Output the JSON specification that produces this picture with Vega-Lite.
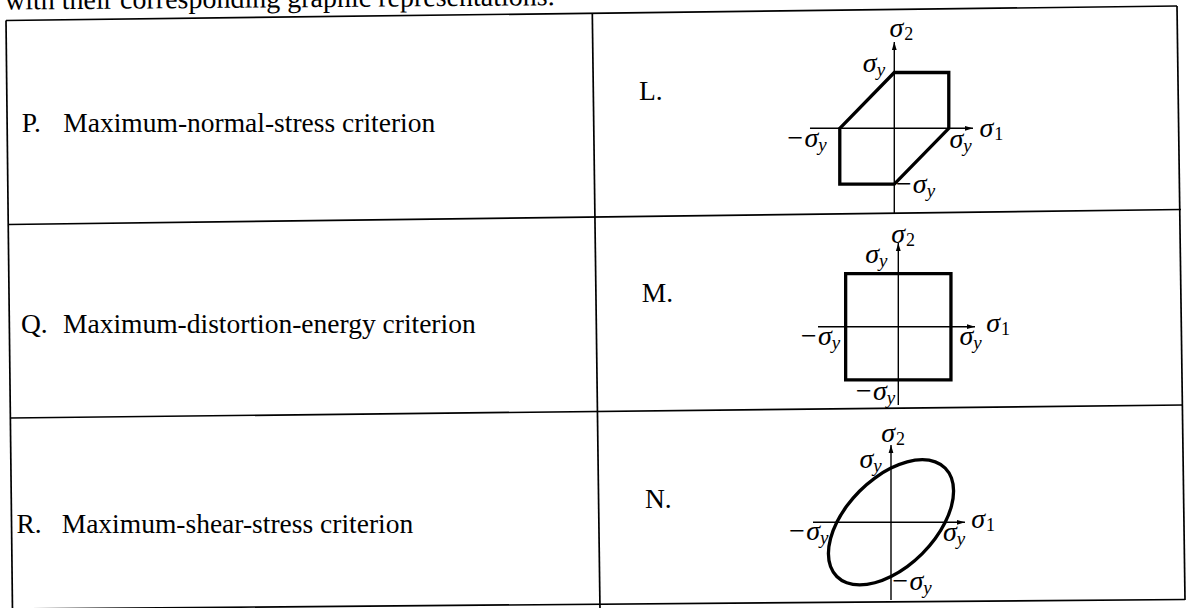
{
  "$schema": "https://vega.github.io/schema/vega-lite/v6.json",
  "width": 1190,
  "height": 608,
  "padding": 0,
  "autosize": {"type": "none"},
  "background": "white",
  "config": {"view": {"stroke": null}},
  "datasets": {
    "grid": [
      {"x": 6, "y": 20.5, "x2": 1177, "y2": 6},
      {"x": 6, "y": 20.5, "x2": 12.5, "y2": 612},
      {"x": 1177, "y": 6, "x2": 1185, "y2": 600},
      {"x": 12, "y": 609, "x2": 1185, "y2": 599.5},
      {"x": 8, "y": 224.5, "x2": 1181, "y2": 209.5},
      {"x": 10, "y": 418, "x2": 1183, "y2": 405},
      {"x": 592.3, "y": 13, "x2": 600, "y2": 610}
    ],
    "heading": [
      {"t": "with their corresponding graphic representations.", "x": 5, "y": 9.5}
    ],
    "cells": [
      {"t": "P.", "x": 21.7, "y": 131.7},
      {"t": "Maximum-normal-stress criterion", "x": 63.3, "y": 131.7},
      {"t": "Q.", "x": 21, "y": 332.5},
      {"t": "Maximum-distortion-energy criterion", "x": 63, "y": 332.5},
      {"t": "R.", "x": 16.5, "y": 533},
      {"t": "Maximum-shear-stress criterion", "x": 61.7, "y": 533},
      {"t": "L.", "x": 639, "y": 100},
      {"t": "M.", "x": 641.7, "y": 302.3},
      {"t": "N.", "x": 645, "y": 508.3}
    ],
    "d1shape": [
      {"o": 0, "x": -1, "y": 0},
      {"o": 1, "x": 0, "y": 1},
      {"o": 2, "x": 1, "y": 1},
      {"o": 3, "x": 1, "y": 0},
      {"o": 4, "x": 0, "y": -1},
      {"o": 5, "x": -1, "y": -1}
    ],
    "d1axes": [
      {"x": -1.547, "y": 0, "x2": 1.444, "y2": 0},
      {"x": 0, "y": -1.518, "x2": 0, "y2": 1.547}
    ],
    "d1arrows": [
      {"x": 1.444, "y": 0, "dir": "right"},
      {"x": 0, "y": 1.547, "dir": "up"}
    ],
    "d1labels": [
      {"x": 0.165, "y": 1.631, "main": "σ", "sub": "2"},
      {"x": 1.817, "y": -0.151, "main": "σ", "sub": "1"},
      {"x": -0.323, "y": 1.014, "main": "σ", "sub": "y"},
      {"x": -1.394, "y": -0.33, "main": "−σ", "sub": "y"},
      {"x": 1.266, "y": -0.358, "main": "σ", "sub": "y"},
      {"x": 0.594, "y": -1.165, "main": "−σ", "sub": "y"}
    ],
    "d2shape": [
      {"o": 0, "x": -1, "y": -1},
      {"o": 1, "x": -1, "y": 1},
      {"o": 2, "x": 1, "y": 1},
      {"o": 3, "x": 1, "y": -1}
    ],
    "d2axes": [
      {"x": -1.525, "y": 0, "x2": 1.457, "y2": 0},
      {"x": 0, "y": -1.473, "x2": 0, "y2": 1.575}
    ],
    "d2arrows": [
      {"x": 1.457, "y": 0, "dir": "right"},
      {"x": 0, "y": 1.575, "dir": "up"}
    ],
    "d2labels": [
      {"x": 0.127, "y": 1.569, "main": "σ", "sub": "2"},
      {"x": -0.367, "y": 1.193, "main": "σ", "sub": "y"},
      {"x": -1.265, "y": -0.344, "main": "−σ", "sub": "y"},
      {"x": 1.425, "y": -0.344, "main": "σ", "sub": "y"},
      {"x": 1.932, "y": -0.094, "main": "σ", "sub": "1"},
      {"x": -0.22, "y": -1.379, "main": "−σ", "sub": "y"}
    ],
    "d3shape": [
      {"o": 0, "x": 1, "y": 1},
      {"o": 1, "x": 0.8165, "y": 1.1154},
      {"o": 2, "x": 0.5774, "y": 1.1547},
      {"o": 3, "x": 0.2989, "y": 1.1154},
      {"o": 4, "x": 0, "y": 1},
      {"o": 5, "x": -0.2989, "y": 0.8165},
      {"o": 6, "x": -0.5774, "y": 0.5774},
      {"o": 7, "x": -0.8165, "y": 0.2989},
      {"o": 8, "x": -1, "y": 0},
      {"o": 9, "x": -1.1154, "y": -0.2989},
      {"o": 10, "x": -1.1547, "y": -0.5774},
      {"o": 11, "x": -1.1154, "y": -0.8165},
      {"o": 12, "x": -1, "y": -1},
      {"o": 13, "x": -0.8165, "y": -1.1154},
      {"o": 14, "x": -0.5774, "y": -1.1547},
      {"o": 15, "x": -0.2989, "y": -1.1154},
      {"o": 16, "x": 0, "y": -1},
      {"o": 17, "x": 0.2989, "y": -0.8165},
      {"o": 18, "x": 0.5774, "y": -0.5774},
      {"o": 19, "x": 0.8165, "y": -0.2989},
      {"o": 20, "x": 1, "y": 0},
      {"o": 21, "x": 1.1154, "y": 0.2989},
      {"o": 22, "x": 1.1547, "y": 0.5774},
      {"o": 23, "x": 1.1154, "y": 0.8165}
    ],
    "d3axes": [
      {"x": -1.439, "y": 0, "x2": 1.365, "y2": 0},
      {"x": 0, "y": -1.434, "x2": 0, "y2": 1.426}
    ],
    "d3arrows": [
      {"x": 1.365, "y": 0, "dir": "right"},
      {"x": 0, "y": 1.426, "dir": "up"}
    ],
    "d3labels": [
      {"x": 0.074, "y": 1.487, "main": "σ", "sub": "2"},
      {"x": -0.327, "y": 0.996, "main": "σ", "sub": "y"},
      {"x": -1.31, "y": -0.327, "main": "−σ", "sub": "y"},
      {"x": 1.212, "y": -0.345, "main": "σ", "sub": "y"},
      {"x": 1.734, "y": -0.111, "main": "σ", "sub": "1"},
      {"x": 0.596, "y": -1.249, "main": "−σ", "sub": "y"}
    ]
  },
  "layer": [
    {
      "encoding": {
        "x": {"field": "x", "type": "quantitative", "scale": {"domain": [0, 1190], "zero": false, "nice": false}, "axis": null},
        "y": {"field": "y", "type": "quantitative", "scale": {"domain": [0, 608], "reverse": true, "zero": false, "nice": false}, "axis": null}
      },
      "layer": [
        {"data": {"name": "grid"}, "mark": {"type": "rule", "color": "black", "strokeWidth": 1.7}, "encoding": {"x2": {"field": "x2"}, "y2": {"field": "y2"}}},
        {"data": {"name": "heading"}, "mark": {"type": "text", "align": "left", "baseline": "alphabetic", "font": "Liberation Serif", "fontSize": 28, "angle": -0.45, "color": "black"}, "encoding": {"text": {"field": "t"}}},
        {"data": {"name": "cells"}, "mark": {"type": "text", "align": "left", "baseline": "alphabetic", "font": "Liberation Serif", "fontSize": 27.5, "color": "black"}, "encoding": {"text": {"field": "t"}}}
      ]
    },
    {
      "encoding": {
        "x": {"field": "x", "type": "quantitative", "scale": {"domain": [-16.409, 5.426], "zero": false, "nice": false}, "axis": null},
        "y": {"field": "y", "type": "quantitative", "scale": {"domain": [-8.597, 2.299], "zero": false, "nice": false}, "axis": null}
      },
      "layer": [
        {"data": {"name": "d1shape"}, "mark": {"type": "line", "interpolate": "linear-closed", "color": "black", "strokeWidth": 3.3, "strokeJoin": "miter"}, "encoding": {"order": {"field": "o", "type": "quantitative"}}},
        {"data": {"name": "d1axes"}, "mark": {"type": "rule", "color": "black", "strokeWidth": 1.4}, "encoding": {"x2": {"field": "x2"}, "y2": {"field": "y2"}}},
        {"data": {"name": "d1arrows"}, "mark": {"type": "point", "filled": true, "color": "black", "opacity": 1, "size": 64, "strokeWidth": 0}, "encoding": {"shape": {"field": "dir", "type": "nominal", "scale": {"domain": ["right", "up"], "range": ["M0,0L-2,-0.6L-2,0.6Z", "M0,0L-0.6,2L0.6,2Z"]}, "legend": null}}},
        {"data": {"name": "d1labels"}, "mark": {"type": "text", "align": "right", "baseline": "alphabetic", "font": "Liberation Serif", "fontStyle": "italic", "fontSize": 28, "color": "black"}, "encoding": {"text": {"field": "main"}}},
        {"data": {"name": "d1labels"}, "transform": [{"filter": "datum.sub != 'y'"}], "mark": {"type": "text", "align": "left", "baseline": "alphabetic", "font": "Liberation Serif", "fontSize": 18, "dx": 1, "dy": 3, "color": "black"}, "encoding": {"text": {"field": "sub"}}},
        {"data": {"name": "d1labels"}, "transform": [{"filter": "datum.sub == 'y'"}], "mark": {"type": "text", "align": "left", "baseline": "alphabetic", "font": "Liberation Serif", "fontStyle": "italic", "fontSize": 19, "dx": 0, "dy": 4, "color": "black"}, "encoding": {"text": {"field": "sub"}}}
      ]
    },
    {
      "encoding": {
        "x": {"field": "x", "type": "quantitative", "scale": {"domain": [-17.0617, 5.5403], "zero": false, "nice": false}, "axis": null},
        "y": {"field": "y", "type": "quantitative", "scale": {"domain": [-5.2926, 6.1468], "zero": false, "nice": false}, "axis": null}
      },
      "layer": [
        {"data": {"name": "d2shape"}, "mark": {"type": "line", "interpolate": "linear-closed", "color": "black", "strokeWidth": 3.3, "strokeJoin": "miter"}, "encoding": {"order": {"field": "o", "type": "quantitative"}}},
        {"data": {"name": "d2axes"}, "mark": {"type": "rule", "color": "black", "strokeWidth": 1.4}, "encoding": {"x2": {"field": "x2"}, "y2": {"field": "y2"}}},
        {"data": {"name": "d2arrows"}, "mark": {"type": "point", "filled": true, "color": "black", "opacity": 1, "size": 64, "strokeWidth": 0}, "encoding": {"shape": {"field": "dir", "type": "nominal", "scale": {"domain": ["right", "up"], "range": ["M0,0L-2,-0.6L-2,0.6Z", "M0,0L-0.6,2L0.6,2Z"]}, "legend": null}}},
        {"data": {"name": "d2labels"}, "mark": {"type": "text", "align": "right", "baseline": "alphabetic", "font": "Liberation Serif", "fontStyle": "italic", "fontSize": 28, "color": "black"}, "encoding": {"text": {"field": "main"}}},
        {"data": {"name": "d2labels"}, "transform": [{"filter": "datum.sub != 'y'"}], "mark": {"type": "text", "align": "left", "baseline": "alphabetic", "font": "Liberation Serif", "fontSize": 18, "dx": 1, "dy": 3, "color": "black"}, "encoding": {"text": {"field": "sub"}}},
        {"data": {"name": "d2labels"}, "transform": [{"filter": "datum.sub == 'y'"}], "mark": {"type": "text", "align": "left", "baseline": "alphabetic", "font": "Liberation Serif", "fontStyle": "italic", "fontSize": 19, "dx": 0, "dy": 4, "color": "black"}, "encoding": {"text": {"field": "sub"}}}
      ]
    },
    {
      "encoding": {
        "x": {"field": "x", "type": "quantitative", "scale": {"domain": [-16.4391, 5.5166], "zero": false, "nice": false}, "axis": null},
        "y": {"field": "y", "type": "quantitative", "scale": {"domain": [-1.5812, 9.6365], "zero": false, "nice": false}, "axis": null}
      },
      "layer": [
        {"data": {"name": "d3shape"}, "mark": {"type": "line", "interpolate": "cardinal-closed", "color": "black", "strokeWidth": 3.3}, "encoding": {"order": {"field": "o", "type": "quantitative"}}},
        {"data": {"name": "d3axes"}, "mark": {"type": "rule", "color": "black", "strokeWidth": 1.4}, "encoding": {"x2": {"field": "x2"}, "y2": {"field": "y2"}}},
        {"data": {"name": "d3arrows"}, "mark": {"type": "point", "filled": true, "color": "black", "opacity": 1, "size": 64, "strokeWidth": 0}, "encoding": {"shape": {"field": "dir", "type": "nominal", "scale": {"domain": ["right", "up"], "range": ["M0,0L-2,-0.6L-2,0.6Z", "M0,0L-0.6,2L0.6,2Z"]}, "legend": null}}},
        {"data": {"name": "d3labels"}, "mark": {"type": "text", "align": "right", "baseline": "alphabetic", "font": "Liberation Serif", "fontStyle": "italic", "fontSize": 28, "color": "black"}, "encoding": {"text": {"field": "main"}}},
        {"data": {"name": "d3labels"}, "transform": [{"filter": "datum.sub != 'y'"}], "mark": {"type": "text", "align": "left", "baseline": "alphabetic", "font": "Liberation Serif", "fontSize": 18, "dx": 1, "dy": 3, "color": "black"}, "encoding": {"text": {"field": "sub"}}},
        {"data": {"name": "d3labels"}, "transform": [{"filter": "datum.sub == 'y'"}], "mark": {"type": "text", "align": "left", "baseline": "alphabetic", "font": "Liberation Serif", "fontStyle": "italic", "fontSize": 19, "dx": 0, "dy": 4, "color": "black"}, "encoding": {"text": {"field": "sub"}}}
      ]
    }
  ],
  "resolve": {"scale": {"x": "independent", "y": "independent", "shape": "independent"}}
}
